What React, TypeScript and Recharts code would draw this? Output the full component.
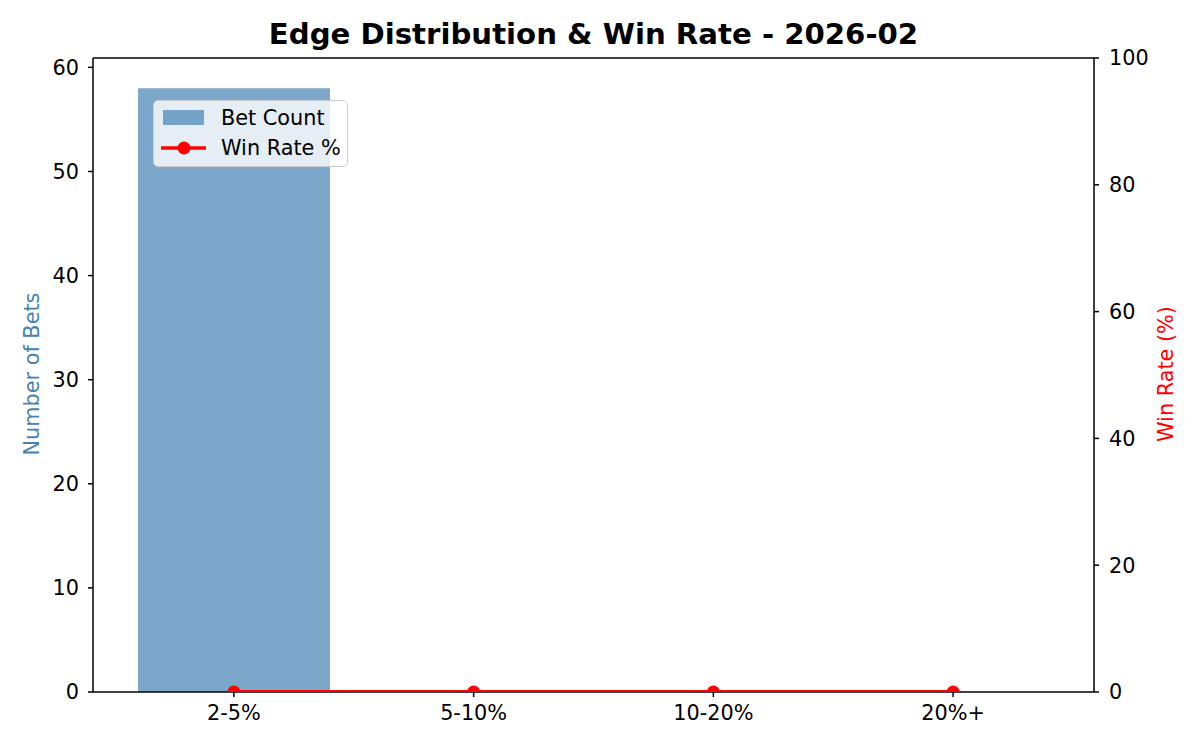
import React from 'react';
import {
  ComposedChart,
  Bar,
  Line,
  XAxis,
  YAxis,
  Legend,
  ReferenceLine,
} from 'recharts';

const categories = ['2-5%', '5-10%', '10-20%', '20%+'];
const betCounts = [58, 0, 0, 0];
const winRates = [0, 0, 0, 0];
const countTicks = [0, 10, 20, 30, 40, 50, 60];
const rateTicks = [0, 20, 40, 60, 80, 100];

const BAR_COLOR = '#4682b4';
const LINE_COLOR = '#ff0000';
const FONT = '"DejaVu Sans", sans-serif';
const FS = 20.8;

const data = categories.map((c, i) => ({
  edge: c,
  count: betCounts[i],
  winRate: winRates[i],
}));

const tickStyle = { fill: '#000', fontSize: FS, fontFamily: FONT };
const axisLine = { stroke: '#000', strokeWidth: 1.5 };
const tickLine = { stroke: '#000', strokeWidth: 1.5 };

function LegendBox() {
  return (
    <div
      style={{
        width: 193,
        height: 65,
        border: '1px solid #cccccc',
        borderRadius: 5,
        background: 'rgba(255,255,255,0.8)',
        fontFamily: FONT,
        fontSize: FS,
        color: '#000',
        position: 'relative',
      }}
    >
      <div style={{ position: 'absolute', left: 9, top: 9, width: 41, height: 15, background: BAR_COLOR, opacity: 0.7 }} />
      <div style={{ position: 'absolute', left: 67, top: 5, lineHeight: '24px' }}>Bet Count</div>
      <svg style={{ position: 'absolute', left: 6, top: 36 }} width={48} height={20}>
        <line x1={1} y1={11} x2={46} y2={11} stroke={LINE_COLOR} strokeWidth={3.5} />
        <circle cx={24} cy={11} r={6.5} fill={LINE_COLOR} />
      </svg>
      <div style={{ position: 'absolute', left: 67, top: 35, lineHeight: '24px' }}>Win Rate %</div>
    </div>
  );
}

export default function App() {
  return (
    <div style={{ position: 'absolute', left: 0, top: 0, width: 1200, height: 750, background: '#fff', fontFamily: FONT }}>
      <div
        style={{
          position: 'absolute',
          left: 93,
          width: 1001,
          top: 15,
          textAlign: 'center',
          fontSize: 29.2,
          fontWeight: 'bold',
          lineHeight: '38px',
          color: '#000',
        }}
      >
        Edge Distribution &amp; Win Rate - 2026-02
      </div>
      <ComposedChart
        width={1200}
        height={750}
        data={data}
        margin={{ top: 58, right: 0, bottom: 0, left: 0 }}
        barCategoryGap="10%"
      >
        <XAxis
          dataKey="edge"
          height={58}
          padding={{ left: 21, right: 21 }}
          tick={tickStyle}
          tickSize={5}
          tickMargin={8}
          axisLine={axisLine}
          tickLine={tickLine}
          interval={0}
        />
        <YAxis
          yAxisId="left"
          width={93}
          domain={[0, 60.9]}
          ticks={countTicks}
          tick={tickStyle}
          tickSize={5}
          tickMargin={9}
          axisLine={axisLine}
          tickLine={tickLine}
          label={{
            content: () => (
              <text
                x={32}
                y={374}
                transform="rotate(-90 32 374)"
                textAnchor="middle"
                dominantBaseline="central"
                fill={BAR_COLOR}
                fontSize={FS}
                fontFamily={FONT}
              >
                Number of Bets
              </text>
            ),
          }}
        />
        <YAxis
          yAxisId="right"
          orientation="right"
          width={106}
          domain={[0, 100]}
          ticks={rateTicks}
          allowDataOverflow
          tick={tickStyle}
          tickSize={5}
          tickMargin={10}
          axisLine={axisLine}
          tickLine={tickLine}
          label={{
            content: () => (
              <text
                x={1166}
                y={374}
                transform="rotate(-90 1166 374)"
                textAnchor="middle"
                dominantBaseline="central"
                fill={LINE_COLOR}
                fontSize={FS}
                fontFamily={FONT}
              >
                Win Rate (%)
              </text>
            ),
          }}
        />
        <Bar
          yAxisId="left"
          dataKey="count"
          name="Bet Count"
          fill={BAR_COLOR}
          fillOpacity={0.7}
          isAnimationActive={false}
        />
        <Line
          yAxisId="right"
          dataKey="winRate"
          name="Win Rate %"
          stroke={LINE_COLOR}
          strokeWidth={4.2}
          dot={{ r: 6.5, fill: LINE_COLOR, stroke: LINE_COLOR, strokeWidth: 0 }}
          activeDot={false}
          isAnimationActive={false}
          zIndex={800}
        />
        <ReferenceLine yAxisId="left" y={60.9} stroke="#000" strokeWidth={1.5} />
        <Legend
          layout="vertical"
          align="center"
          verticalAlign="middle"
          content={() => <LegendBox />}
          wrapperStyle={{ left: 153, top: 100, width: 195 }}
        />
      </ComposedChart>
    </div>
  );
}
